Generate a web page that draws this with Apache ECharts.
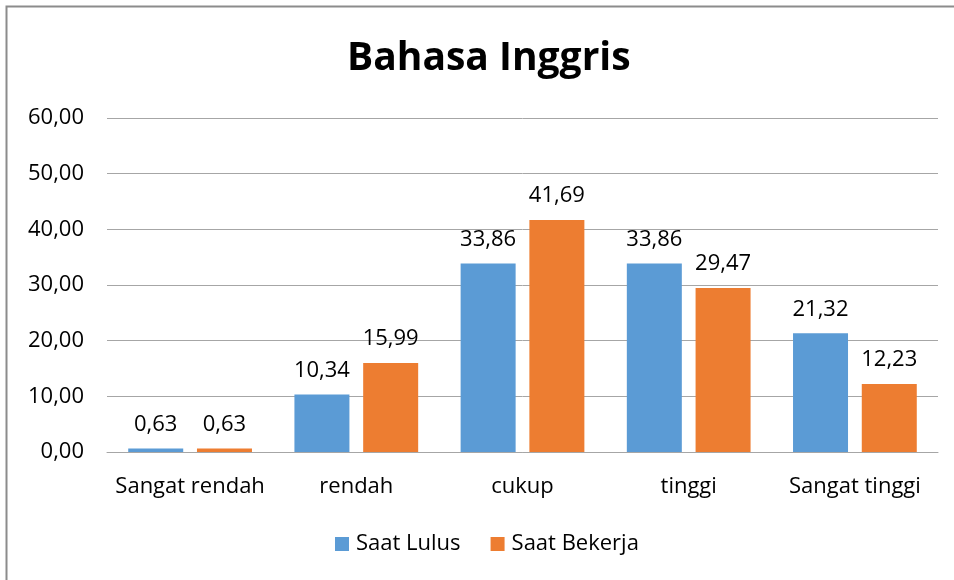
<!DOCTYPE html>
<html>
<head>
<meta charset="utf-8">
<script src="https://cdn.jsdelivr.net/npm/echarts@6/dist/echarts.min.js"></script>
<style>
  html, body { margin: 0; padding: 0; background: #fff; }
  #chart { width: 954px; height: 580px; }
</style>
</head>
<body>
<div id="chart"></div>
<script>
const categories = ['Sangat rendah', 'rendah', 'cukup', 'tinggi', 'Sangat tinggi']
const saatLulus = [0.63, 10.34, 33.86, 33.86, 21.32]
const saatBekerja = [0.63, 15.99, 41.69, 29.47, 12.23]
const seriesNames = ['Saat Lulus', 'Saat Bekerja']

const fontFamily = '"Open Sans", sans-serif'

function fmt(v) {
  return v.toFixed(2).replace('.', ',')
}

const chart = echarts.init(document.getElementById('chart'))

const option = {
  animation: false,
  textStyle: { fontFamily: fontFamily },
  title: {
    text: 'Bahasa Inggris',
    left: 342,
    top: 34,
    textStyle: {
      fontFamily: fontFamily,
      fontSize: 39,
      fontWeight: 'bold',
      color: '#000'
    }
  },
  graphic: [
    {
      type: 'rect',
      shape: { x: 6.5, y: 6.5, width: 1000, height: 1000 },
      style: { fill: 'none', stroke: '#8c8c8c', lineWidth: 2 },
      silent: true
    }
  ],
  legend: {
    bottom: 20,
    left: 330,
    itemWidth: 14,
    itemHeight: 14,
    itemGap: 30,
    icon: 'rect',
    textStyle: { fontSize: 22, color: '#000', fontFamily: fontFamily, padding: [0, 0, 0, 2] },
    data: seriesNames
  },
  grid: {
    left: 107,
    right: 16,
    top: 118,
    bottom: 128
  },
  xAxis: {
    type: 'category',
    data: categories,
    axisTick: { show: false },
    axisLine: { lineStyle: { color: '#a6a6a6', width: 1 } },
    axisLabel: { fontSize: 22, color: '#000', margin: 24, interval: 0 }
  },
  yAxis: {
    type: 'value',
    min: 0,
    max: 60,
    interval: 10,
    axisLine: { show: false },
    axisTick: { show: false },
    splitLine: { lineStyle: { color: '#a6a6a6', width: 1 } },
    axisLabel: {
      fontSize: 22,
      color: '#000',
      margin: 23,
      formatter: v => fmt(v)
    }
  },
  series: [
    {
      name: seriesNames[0],
      type: 'bar',
      data: saatLulus,
      barWidth: 55,
      barGap: '25%',
      itemStyle: { color: '#5b9bd5' },
      label: {
        show: true,
        position: 'top',
        distance: 13,
        fontSize: 22,
        color: '#000',
        formatter: p => fmt(p.value)
      }
    },
    {
      name: seriesNames[1],
      type: 'bar',
      data: saatBekerja,
      barWidth: 55,
      barGap: '25%',
      itemStyle: { color: '#ed7d31' },
      label: {
        show: true,
        position: 'top',
        distance: 13,
        fontSize: 22,
        color: '#000',
        formatter: p => fmt(p.value)
      }
    }
  ]
}

chart.setOption(option)
</script>
</body>
</html>
